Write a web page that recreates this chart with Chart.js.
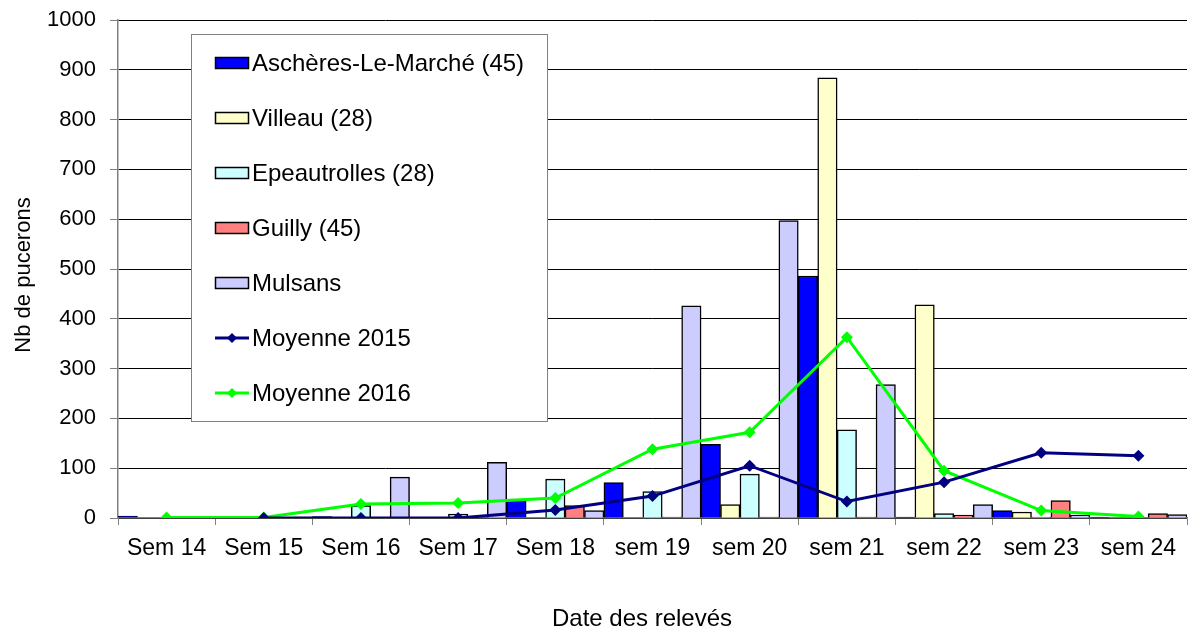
<!DOCTYPE html>
<html>
<head>
<meta charset="utf-8">
<script src="https://cdn.jsdelivr.net/npm/chart.js@4/dist/chart.umd.min.js"></script>
<style>
  html, body { margin: 0; padding: 0; background: #fff; }
  #wrap { width: 1193px; height: 627px; }
</style>
</head>
<body>
<div id="wrap"><canvas id="chart" width="1193" height="627"></canvas></div>
<script>
// week labels
const weeks = ["Sem 14", "Sem 15", "Sem 16", "Sem 17", "Sem 18", "sem 19", "sem 20", "sem 21", "sem 22", "sem 23", "sem 24"];

// aphid counts per site
const aschieres = [4, 1, 3, 1, 38, 71, 148, 486, 2, 15, 2];
const villeau = [0, 0, 0, 0, 0, 0, 27, 884, 428, 12, 1];
const epeautrolles = [0, 0, 25, 8, 78, 53, 88, 177, 9, 2, 0];
const guilly = [0, 0, 0, 0, 25, 2, 2, 2, 6, 35, 9];
const mulsans = [0, 2, 82, 112, 15, 426, 597, 268, 27, 6, 7];

// averages
const moyenne2015 = [null, 0, 0, 0, 16, 44, 105, 33, 72, 131, 125];
const moyenne2016 = [1, 1, 28, 30, 40, 138, 172, 363, 95, 15, 3];

const yTicks = [0, 100, 200, 300, 400, 500, 600, 700, 800, 900, 1000];

const FONT = "'Liberation Sans', Arial, sans-serif";

function barSet(label, data, color) {
  return {
    type: "bar",
    label: label,
    data: data,
    backgroundColor: color,
    borderColor: "#000",
    borderWidth: 1.5,
    borderSkipped: "bottom",
    barPercentage: 1,
    categoryPercentage: 1,
    order: 1
  };
}

function lineSet(label, data, color) {
  return {
    type: "line",
    label: label,
    data: data,
    borderColor: color,
    backgroundColor: color,
    borderWidth: 3,
    pointStyle: "rectRot",
    pointRadius: 6,
    pointBorderWidth: 0,
    tension: 0,
    order: 0
  };
}

// legend + axis titles, drawn over the plot
const extras = {
  id: "extras",
  afterDraw(chart) {
    const ctx = chart.ctx;
    ctx.save();

    // legend box
    ctx.fillStyle = "#fff";
    ctx.fillRect(191.5, 34.5, 356, 387);
    ctx.strokeStyle = "#808080";
    ctx.lineWidth = 1;
    ctx.strokeRect(191.5, 34.5, 356, 387);

    ctx.font = "24px " + FONT;
    ctx.textBaseline = "middle";
    ctx.textAlign = "left";
    chart.data.datasets.forEach((ds, i) => {
      const y = 63 + i * 55;
      if (ds.type === "bar") {
        ctx.fillStyle = ds.backgroundColor;
        ctx.fillRect(215.5, y - 5.5, 33, 11);
        ctx.strokeStyle = "#000";
        ctx.lineWidth = 1.5;
        ctx.strokeRect(215.5, y - 5.5, 33, 11);
      } else {
        ctx.strokeStyle = ds.borderColor;
        ctx.lineWidth = 3;
        ctx.beginPath();
        ctx.moveTo(215, y);
        ctx.lineTo(249, y);
        ctx.stroke();
        ctx.fillStyle = ds.borderColor;
        ctx.beginPath();
        ctx.moveTo(232, y - 5);
        ctx.lineTo(237, y);
        ctx.lineTo(232, y + 5);
        ctx.lineTo(227, y);
        ctx.closePath();
        ctx.fill();
      }
      ctx.fillStyle = "#000";
      ctx.fillText(ds.label, 252, y + 1);
    });

    // axis titles
    ctx.fillStyle = "#000";
    ctx.font = "24px " + FONT;
    ctx.textAlign = "center";
    ctx.textBaseline = "alphabetic";
    ctx.fillText("Date des relevés", 642, 626);

    ctx.translate(30, 275);
    ctx.rotate(-Math.PI / 2);
    ctx.font = "22px " + FONT;
    ctx.fillText("Nb de pucerons", 0, 0);
    ctx.restore();
  }
};

new Chart(document.getElementById("chart"), {
  data: {
    labels: weeks,
    datasets: [
      barSet("Aschères-Le-Marché (45)", aschieres, "#0000FF"),
      barSet("Villeau (28)", villeau, "#FFFFCC"),
      barSet("Epeautrolles (28)", epeautrolles, "#CCFFFF"),
      barSet("Guilly (45)", guilly, "#FF8080"),
      barSet("Mulsans", mulsans, "#CCCCFF"),
      lineSet("Moyenne 2015", moyenne2015, "#000080"),
      lineSet("Moyenne 2016", moyenne2016, "#00FF00")
    ]
  },
  options: {
    responsive: false,
    animation: false,
    layout: { padding: { top: 20, right: 0, left: 0, bottom: 0 } },
    plugins: {
      legend: { display: false },
      tooltip: { enabled: false }
    },
    scales: {
      x: {
        type: "category",
        offset: true,
        grid: {
          offset: true,
          drawOnChartArea: false,
          drawTicks: true,
          tickLength: 7,
          color: "#808080"
        },
        border: { color: "#808080", width: 1.5 },
        ticks: {
          color: "#000",
          font: { family: FONT, size: 23 },
          padding: 10,
          maxRotation: 0,
          autoSkip: false
        },
        afterFit(scale) {
          scale.height = 109;
          scale.paddingLeft = 0;
          scale.paddingRight = 0;
        }
      },
      y: {
        min: 0,
        max: 1000,
        afterBuildTicks(scale) { scale.ticks = yTicks.map(v => ({ value: v })); },
        grid: {
          color: "#000",
          lineWidth: 1,
          drawTicks: true,
          tickLength: 8,
          tickColor: "#808080"
        },
        border: { color: "#808080", width: 1.5 },
        ticks: {
          color: "#000",
          font: { family: FONT, size: 22 },
          padding: 14,
          callback: (v) => String(v)
        },
        afterFit(scale) {
          scale.width = 118;
          scale.paddingTop = 0;
          scale.paddingBottom = 0;
        }
      }
    }
  },
  plugins: [extras]
});
</script>
</body>
</html>
